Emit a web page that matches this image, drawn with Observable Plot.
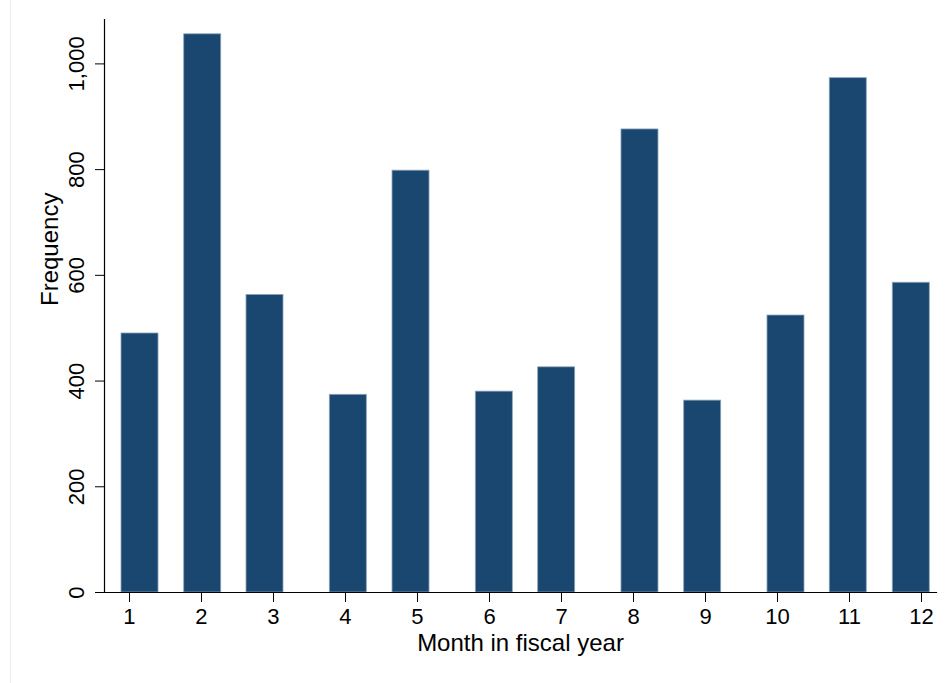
<!DOCTYPE html>
<html>
<head>
<meta charset="utf-8">
<script src="https://cdn.jsdelivr.net/npm/d3@7"></script>
<script src="https://cdn.jsdelivr.net/npm/@observablehq/plot@0.6"></script>
<style>
  body { margin: 0; background: #fff; }
  #chart { position: relative; width: 945px; height: 683px; }
  #chart .edge { position: absolute; left: 10px; top: 0; width: 1px; height: 683px; background: #ececec; }
  #chart svg { position: absolute; left: 0; top: 0; }
</style>
</head>
<body>
<div id="chart"><div class="edge"></div></div>
<script>
// Data (histogram of month in fiscal year)
const months = [1, 2, 3, 4, 5, 6, 7, 8, 9, 10, 11, 12];
const counts = [490, 1056, 563, 374, 798, 380, 426, 876, 363, 524, 973, 586];
// histogram bin edges (in month units, as drawn in the reference)
const binStart = [0.889, 1.760, 2.625, 3.782, 4.653, 5.810, 6.676, 7.833, 8.704, 9.861, 10.726, 11.601];
const binEnd   = [1.403, 2.274, 3.139, 4.296, 5.167, 6.324, 7.190, 8.347, 9.218, 10.375, 11.240, 12.115];
const xTicks = [1, 2, 3, 4, 5, 6, 7, 8, 9, 10, 11, 12];
const yTicks = [0, 200, 400, 600, 800, 1000];
const xTitle = "Month in fiscal year";
const yTitle = "Frequency";

const data = months.map((m, i) => ({month: m, count: counts[i], x1: binStart[i], x2: binEnd[i]}));

const font = "'Liberation Sans', Arial, Helvetica, sans-serif";
const fmt = d3.format(",d");

const plot = Plot.plot({
  width: 945,
  height: 683,
  marginLeft: 104,
  marginRight: 9,
  marginTop: 19,
  marginBottom: 91,
  style: {fontFamily: font, color: "#000", background: "transparent", overflow: "visible"},
  x: {domain: [0.6528, 12.2083]},
  y: {domain: [0, 1084]},
  marks: [
    Plot.rectY(data, {x1: "x1", x2: "x2", y: "count", fill: "#1a476f", stroke: "#8ea3ba", strokeWidth: 0.8}),
    Plot.axisX(xTicks, {tickSize: 10, tickPadding: 6, fontSize: 22, label: null, tickFormat: d => String(d), stroke: "#000", fill: "#000"}),
    Plot.axisY(yTicks, {tickSize: 9, tickPadding: 12, tickRotate: -90, fontSize: 22, tickFormat: d => fmt(d), label: null, stroke: "#000", fill: "#000"}),
    Plot.frame({anchor: "left", stroke: "#000", strokeWidth: 1.2}),
    Plot.frame({anchor: "bottom", stroke: "#000", strokeWidth: 1.2}),
    Plot.text([xTitle], {frameAnchor: "bottom", dy: 58, lineAnchor: "bottom", fontSize: 24, fill: "#000", text: d => d}),
    Plot.text([yTitle], {frameAnchor: "left", dx: -47, rotate: -90, lineAnchor: "bottom", fontSize: 24, fill: "#000", text: d => d})
  ]
});
document.getElementById("chart").appendChild(plot);
</script>
</body>
</html>
